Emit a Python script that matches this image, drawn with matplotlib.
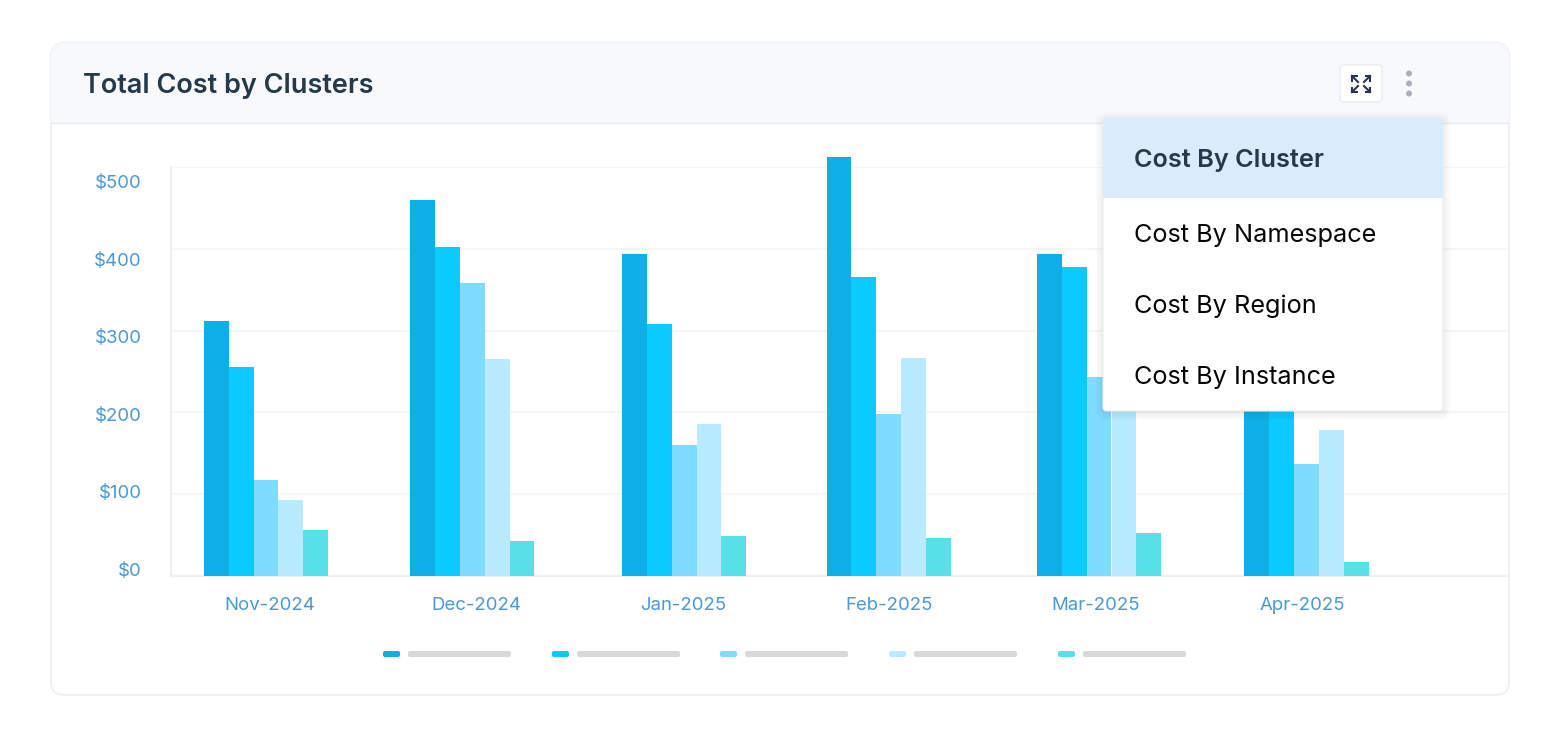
import matplotlib
matplotlib.use('Agg')
import matplotlib.pyplot as plt
import numpy as np
from matplotlib.patches import FancyBboxPatch, Rectangle, Circle

W, H = 1560, 738

months = ['Nov-2024', 'Dec-2024', 'Jan-2025', 'Feb-2025', 'Mar-2025', 'Apr-2025']
# five unnamed series, one value per month (hidden tops behind the menu are guesses)
series_1 = [312, 460, 394, 512, 394, 260]
series_2 = [255, 402, 308, 366, 378, 235]
series_3 = [117, 358, 160, 198, 243, 137]
series_4 = [93, 265, 186, 266, 210, 178]
series_5 = [56, 43, 49, 46, 53, 17]
colors = ['#0EAEE6', '#0BCBFE', '#7FDBFF', '#B8EBFF', '#58E0E8']
y_ticks = [0, 100, 200, 300, 400, 500]
menu_items = ['Cost By Cluster', 'Cost By Namespace', 'Cost By Region', 'Cost By Instance']

plt.rcParams['font.family'] = ['Inter', 'DejaVu Sans']


def px_axes(fig, zorder):
    # full figure axes in pixel coordinates, for the card around the chart
    ax = fig.add_axes([0, 0, 1, 1], zorder=zorder)
    ax.set_xlim(0, W)
    ax.set_ylim(H, 0)
    ax.axis('off')
    ax.patch.set_alpha(0)
    return ax


def draw_card(ax):
    card = FancyBboxPatch((51, 43), 1458, 652, boxstyle='round,pad=0,rounding_size=13',
                          fc='white', ec='#EEF0F3', lw=1.4)
    ax.add_patch(card)
    header = Rectangle((51, 43), 1458, 80, fc='#F7F9FD', ec='none')
    ax.add_patch(header)
    header.set_clip_path(card)
    ax.plot([51, 1509], [123, 123], color='#E9EBEF', lw=1)
    ax.text(83, 83, 'Total Cost by Clusters', fontsize=19.5, fontweight='semibold',
            color='#24394A', va='center_baseline')

    # expand button
    ax.add_patch(FancyBboxPatch((1340, 65), 42, 37, boxstyle='round,pad=0,rounding_size=4',
                                fc='white', ec='#E9EBEF', lw=1))
    for sx, sy in [(-1, -1), (1, -1), (-1, 1), (1, 1)]:
        cx, cy = 1361 + sx * 9, 84 + sy * 8
        ax.plot([cx - sx * 4.5, cx, cx], [cy, cy, cy - sy * 4.5], color='#2B3550', lw=1.5,
                solid_joinstyle='miter')
        ax.plot([cx, cx - sx * 6], [cy, cy - sy * 6], color='#2B3550', lw=1.5)

    # three dots
    for y in [73.5, 83.5, 93.5]:
        ax.add_patch(Circle((1409, y), 3, fc='#ABAFB8', ec='none'))


def draw_legend(ax):
    starts = [383, 552, 720, 889, 1058]
    for x, c in zip(starts, colors):
        ax.add_patch(FancyBboxPatch((x, 651), 17, 6, boxstyle='round,pad=0,rounding_size=2',
                                    fc=c, ec='none'))
        ax.add_patch(FancyBboxPatch((x + 25, 651), 103, 6, boxstyle='round,pad=0,rounding_size=2',
                                    fc='#D8D8D8', ec='none'))


def draw_menu(ax):
    x0, y0, w, h = 1103, 118, 340, 293
    for i in range(10, 0, -1):
        ax.add_patch(FancyBboxPatch((x0 - i + 2, y0 - i + 4), w + 2 * i - 4, h + 2 * i - 4,
                                    boxstyle='round,pad=0,rounding_size=%d' % (3 + i),
                                    fc='#5A6A80', ec='none', alpha=0.012))
    menu = FancyBboxPatch((x0, y0), w, h, boxstyle='round,pad=0,rounding_size=4',
                          fc='white', ec='#E9EDF2', lw=0.8)
    ax.add_patch(menu)
    top = Rectangle((x0, y0), w, 80, fc='#DAECFC', ec='none')
    ax.add_patch(top)
    top.set_clip_path(menu)
    ys = [158, 233, 304, 375]
    for i, (label, y) in enumerate(zip(menu_items, ys)):
        ax.text(1134, y, label, fontsize=18.2, va='center_baseline',
                fontweight='semibold' if i == 0 else 'normal',
                color='#24394A' if i == 0 else '#050608')


def draw_chart(fig):
    left, right, top, bottom = 171, 1509, 167, 576
    ax = fig.add_axes([left / W, 1 - bottom / H, (right - left) / W, (bottom - top) / H], zorder=1)
    ax.patch.set_alpha(0)

    # one month = 206.4 px, Nov label sits at 270 px
    step = 206.4
    ax.set_xlim((left - 270) / step, (right - 270) / step)
    ax.set_ylim(0, 500)
    width = 24.8 / step
    # the groups are not quite centred under their labels in the original
    shift = np.array([-4, -4, 1.5, -0.5, 3.5, 4.5]) / step
    x = np.arange(len(months)) + shift

    all_series = [series_1, series_2, series_3, series_4, series_5]
    for i, vals in enumerate(all_series):
        # Feb goes above the last grid line
        ax.bar(x + (i - 2) * width, vals, width=width, color=colors[i], zorder=3, clip_on=False)

    ax.set_xticks(np.arange(len(months)))
    ax.set_xticklabels(months)
    ax.tick_params(axis='x', length=0, pad=15.4, labelsize=13.4, labelcolor='#4A98D6')
    ax.set_yticks(y_ticks)
    ax.set_yticklabels([])
    ax.tick_params(axis='y', length=0)
    ax.grid(axis='y', color='#F5F6F8', lw=1.5, zorder=0)
    for s in ['top', 'right']:
        ax.spines[s].set_visible(False)
    for s in ['left', 'bottom']:
        ax.spines[s].set_color('#EEF0F3')
        ax.spines[s].set_linewidth(1.6)

    # value labels are spaced tighter than the grid in the original
    ax2 = ax.twinx()
    ax2.set_ylim(-9, 519)
    ax2.set_yticks(y_ticks)
    ax2.set_yticklabels(['$%d' % v for v in y_ticks])
    ax2.yaxis.tick_left()
    ax2.tick_params(axis='y', length=0, pad=21, labelsize=13.4, labelcolor='#4A98D6')
    for s in ax2.spines.values():
        s.set_visible(False)


fig = plt.figure(figsize=(W / 100, H / 100), dpi=100, facecolor='white')
back = px_axes(fig, 0)
draw_card(back)
draw_legend(back)
draw_chart(fig)
front = px_axes(fig, 2)
draw_menu(front)

fig.savefig('out.png', dpi=100)
